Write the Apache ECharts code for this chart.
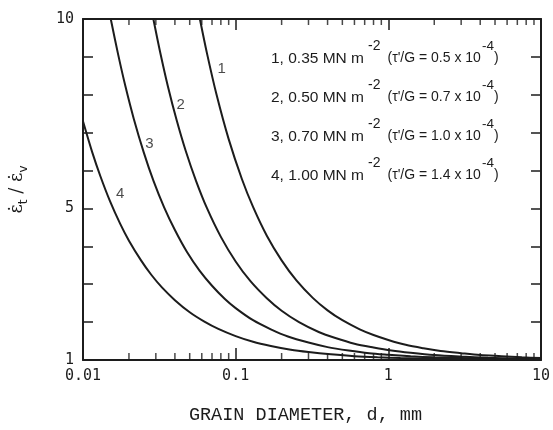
<!DOCTYPE html>
<html>
<head>
<meta charset="utf-8">
<script src="https://cdn.jsdelivr.net/npm/echarts@6/dist/echarts.min.js"></script>
<style>
html,body{margin:0;padding:0;background:#fff;}
#chart{width:553px;height:430px;}
</style>
</head>
<body>
<div id="chart"></div>
<script>
// grain diameter d (mm) vs strain-rate ratio
const curve1 = [[0.0583,10],[0.065,9.08],[0.075,8.0],[0.09,6.83],[0.11,5.77],[0.13,5.04],[0.16,4.28],[0.2,3.63],[0.25,3.1],[0.32,2.64],[0.4,2.31],[0.5,2.05],[0.65,1.81],[0.8,1.66],[1,1.53],[1.3,1.4],[1.7,1.31],[2.2,1.24],[3,1.18],[4,1.13],[5.5,1.1],[7.5,1.07],[10,1.05]];
const curve2 = [[0.0289,10],[0.032,9.13],[0.036,8.22],[0.041,7.34],[0.047,6.53],[0.055,5.73],[0.065,5.0],[0.08,4.25],[0.1,3.6],[0.125,3.08],[0.16,2.63],[0.2,2.3],[0.26,2.0],[0.35,1.74],[0.45,1.58],[0.6,1.43],[0.8,1.33],[1.05,1.25],[1.4,1.19],[2,1.13],[3,1.09],[4.5,1.06],[7,1.04],[10,1.03]];
const curve3 = [[0.0152,10],[0.017,9.06],[0.019,8.21],[0.0215,7.37],[0.025,6.48],[0.029,5.72],[0.034,5.03],[0.04,4.43],[0.048,3.85],[0.058,3.36],[0.07,2.96],[0.085,2.61],[0.1,2.37],[0.13,2.05],[0.17,1.81],[0.22,1.62],[0.3,1.46],[0.4,1.34],[0.55,1.25],[0.75,1.18],[1,1.14],[1.4,1.1],[2,1.07],[3,1.05],[5,1.03],[10,1.01]];
const curve4 = [[0.01,7.3],[0.0115,6.48],[0.013,5.85],[0.015,5.2],[0.0175,4.6],[0.02,4.15],[0.024,3.63],[0.028,3.25],[0.033,2.91],[0.04,2.58],[0.05,2.26],[0.062,2.02],[0.077,1.82],[0.1,1.63],[0.13,1.48],[0.17,1.37],[0.23,1.27],[0.3,1.21],[0.42,1.15],[0.6,1.1],[0.85,1.07],[1.2,1.05],[2,1.03],[4,1.02],[10,1.01]];
const curveNames = ['1','2','3','4'];
const curveLabels = [[0.081,8.69,'1'],[0.0436,7.74,'2'],[0.0272,6.70,'3'],[0.0175,5.39,'4']];
const xMinorTicks = [0.02,0.03,0.04,0.05,0.06,0.07,0.08,0.09,0.2,0.3,0.4,0.5,0.6,0.7,0.8,0.9,2,3,4,5,6,7,8,9];
const yLabelValues = [1,5,10];
const legendLines = [
  ['1, 0.35 MN m','-2','(\u03c4\'/G = 0.5 x 10','-4',')'],
  ['2, 0.50 MN m','-2','(\u03c4\'/G = 0.7 x 10','-4',')'],
  ['3, 0.70 MN m','-2','(\u03c4\'/G = 1.0 x 10','-4',')'],
  ['4, 1.00 MN m','-2','(\u03c4\'/G = 1.4 x 10','-4',')']
];

const INK = '#1c1c1c';
const sans = '"Liberation Sans", sans-serif';
const mono = '"DejaVu Sans Mono", monospace';

const chart = echarts.init(document.getElementById('chart'), null, {renderer:'canvas'});

const curveSeries = [curve1,curve2,curve3,curve4].map((c,i)=>({
  type:'line', name:curveNames[i], data:c, smooth:0.3,
  showSymbol:false, symbol:'none', lineStyle:{color:INK,width:2}, z:3, silent:true
}));

const legendText = legendLines.map(l =>
  '{a|'+l[0]+'}{s2|'+l[1]+'}{b|'+l[2]+'}{s4|'+l[3]+'}{b|'+l[4]+'}').join('\n');

chart.setOption({
  backgroundColor:'#ffffff',
  animation:false,
  grid:{left:75,right:9,top:19,bottom:61,containLabel:false},
  xAxis:[{
    type:'log', min:0.01, max:10, logBase:10, position:'bottom',
    axisLine:{show:true,lineStyle:{color:INK,width:2}},
    axisTick:{show:true,inside:true,length:12,lineStyle:{color:INK,width:1.5}},
    splitLine:{show:false},
    axisLabel:{show:true,margin:9,color:INK,fontFamily:mono,fontSize:15,
      formatter:v=>{return v>=1?String(Math.round(v)):String(+v.toPrecision(1));}},
    name:'GRAIN DIAMETER, d, mm', nameLocation:'middle', nameGap:46,
    nameTextStyle:{color:INK,fontFamily:'"Liberation Mono", monospace',fontSize:18.5,padding:[0,13,0,0]}
  },{
    type:'log', min:0.01, max:10, logBase:10, position:'top',
    axisLine:{show:true,lineStyle:{color:INK,width:2}},
    axisTick:{show:true,inside:true,length:11,lineStyle:{color:INK,width:1.5}},
    axisLabel:{show:false}, splitLine:{show:false}
  }],
  yAxis:[{
    type:'value', min:1, max:10, interval:1, position:'left',
    axisLine:{show:true,lineStyle:{color:INK,width:2}},
    axisTick:{show:true,inside:true,length:10,lineStyle:{color:INK,width:1.5}},
    splitLine:{show:false},
    axisLabel:{show:true,margin:9,color:INK,fontFamily:mono,fontSize:15,
      formatter:v=>yLabelValues.indexOf(v)>=0?String(v):''},
    name:'{e|\u03b5\u0307}{t|t}{e| / \u03b5\u0307}{t|v}', nameLocation:'middle', nameGap:53, nameRotate:90,
    nameTextStyle:{color:INK,rich:{
      e:{fontSize:18,fontFamily:'"DejaVu Serif", serif',color:INK,lineHeight:22,verticalAlign:'top'},
      t:{fontSize:12,fontFamily:'"DejaVu Sans", sans-serif',color:INK,lineHeight:13,verticalAlign:'bottom'}
    }}
  },{
    type:'value', min:1, max:10, interval:1, position:'right',
    axisLine:{show:true,lineStyle:{color:INK,width:2}},
    axisTick:{show:true,inside:true,length:10,lineStyle:{color:INK,width:1.5}},
    axisLabel:{show:false}, splitLine:{show:false}
  }],
  graphic:[{
    type:'text', left:271, top:39, silent:true,
    style:{
      text:legendText, fill:INK,
      rich:{
        a:{fontSize:15.5,fontFamily:sans,lineHeight:39,verticalAlign:'middle',fill:INK},
        b:{fontSize:14,fontFamily:sans,lineHeight:39,verticalAlign:'middle',fill:INK},
        s2:{fontSize:14,fontFamily:sans,lineHeight:17,verticalAlign:'top',padding:[0,7,0,4],fill:INK},
        s4:{fontSize:13.5,fontFamily:sans,lineHeight:8,verticalAlign:'top',padding:[0,0,0,1],fill:INK}
      }
    }
  }],
  series:[
    ...curveSeries,
    {type:'scatter', data:xMinorTicks.map(d=>[d,1]), symbol:'rect', symbolSize:[1.5,7], symbolOffset:[0,-3.5],
      itemStyle:{color:INK}, clip:false, silent:true, z:4},
    {type:'scatter', data:xMinorTicks.map(d=>[d,10]), symbol:'rect', symbolSize:[1.5,6], symbolOffset:[0,3],
      itemStyle:{color:INK}, clip:false, silent:true, z:4},
    {type:'scatter', data:curveLabels, symbolSize:0, silent:true, z:5,
      label:{show:true,position:'inside',formatter:p=>p.value[2],color:INK,fontFamily:sans,fontSize:15}}
  ]
});
</script>
</body>
</html>
